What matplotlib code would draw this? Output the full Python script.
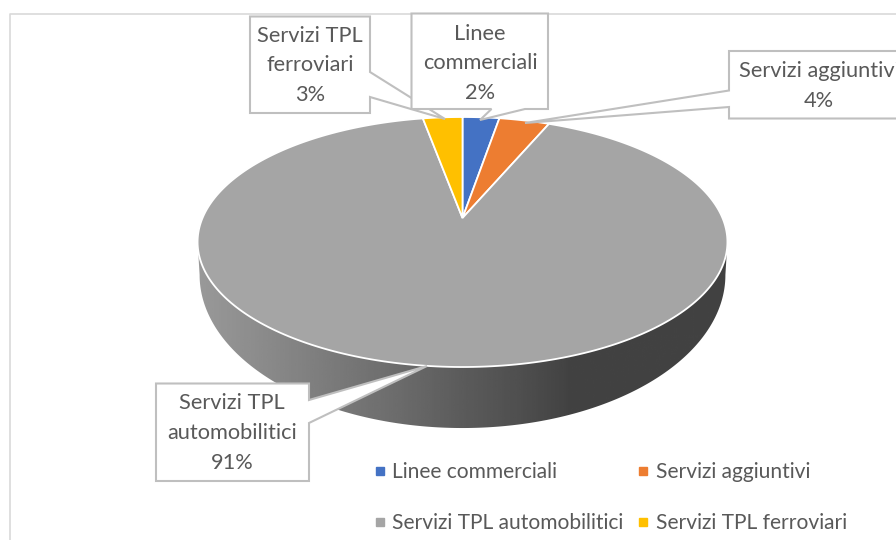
import numpy as np
import matplotlib
matplotlib.use('Agg')
import matplotlib.pyplot as plt
from matplotlib.lines import Line2D
from matplotlib.patches import Polygon

plt.rcParams['font.family'] = ['Lato', 'DejaVu Sans']

categories = ['Linee commerciali', 'Servizi aggiuntivi', 'Servizi TPL automobilitici', 'Servizi TPL ferroviari']
# slice sizes as measured on the picture, printed labels are the ones in the chart
shares = [2.7, 3.7, 90.7, 2.9]
pct_labels = ['2%', '4%', '91%', '3%']
colors = ['#4472c4', '#ed7d31', '#a5a5a5', '#ffc000']

text_color = '#595959'
box_color = '#bfbfbf'


def project(theta, x0, y0, a, b, k):
    # tilted disc, theta clockwise from the back of the pie
    xx = np.sin(theta)
    yy = np.cos(theta)
    d = 1 + k * yy
    return x0 + a * xx / d, y0 - b * yy / d


top = dict(x0=462.5, y0=218, a=260, b=120.4, k=0.192)
low = dict(x0=462.5, y0=245.6, a=258, b=147.4, k=0.192)

fig = plt.figure(figsize=(8.96, 5.4), dpi=100)
ax = fig.add_axes([0, 0, 1, 1])

# chart frame
ax.plot([10, 10, 896], [540, 13.5, 13.5], color='#d9d9d9', lw=1.2, zorder=0)

# side of the pie
t = np.linspace(0, 2 * np.pi, 721)
tx, ty = project(t, **top)
lx, ly = project(t, **low)
i_l, i_r = np.argmin(lx), np.argmax(lx)
t_l, t_r = np.argmin(tx), np.argmax(tx)
side_x = np.r_[lx[i_r:i_l + 1], tx[t_l:], tx[:t_r + 1]]
side_y = np.r_[ly[i_r:i_l + 1], ty[t_l:], ty[:t_r + 1]]
side = Polygon(np.c_[side_x, side_y], closed=True, fc='none', ec='none', transform=ax.transData)
ax.add_patch(side)
ramp = np.interp(np.linspace(190, 735, 256), [200, 310, 400, 460, 520, 570],
                 [0.60, 0.50, 0.42, 0.36, 0.31, 0.26])
im = ax.imshow(ramp[None, :], extent=[190, 735, 440, 230], cmap='gray', vmin=0, vmax=1,
               aspect='auto', zorder=1)
im.set_clip_path(side)

# top of the pie
start = 0
for share, color in zip(shares, colors):
    end = start + share / sum(shares) * 2 * np.pi
    arc = np.linspace(start, end, 300)
    ax_, ay_ = project(arc, **top)
    pts = np.c_[np.r_[top['x0'], ax_], np.r_[top['y0'], ay_]]
    ax.add_patch(Polygon(pts, closed=True, fc=color, ec='white', lw=1.3, zorder=2))
    start = end


def callout(outline, lines, cx, ys):
    ax.add_patch(Polygon(outline, closed=True, fc='white', ec=box_color, lw=1.5, zorder=3))
    for line, y in zip(lines, ys):
        ax.text(cx, y, line, ha='center', va='center', fontsize=15.7, color=text_color, zorder=4)


callout([(250, 16.5), (370, 16.5), (370, 72), (445, 119), (370, 97), (370, 113), (250, 113)],
        ['Servizi TPL', 'ferroviari', pct_labels[3]], 310, [36, 65, 95])
callout([(411.5, 13.5), (548, 13.5), (548, 109), (525, 109), (480, 120), (491.5, 109), (411.5, 109)],
        ['Linee', 'commerciali', pct_labels[0]], 480, [34, 63, 93])
callout([(729, 51), (900, 51), (900, 118.5), (729, 118.5), (729, 107), (525, 123), (729, 90.5)],
        ['Servizi aggiuntivi', pct_labels[1]], 819, [71, 101])
callout([(156, 383.5), (309, 383.5), (309, 400), (427, 366), (309, 423), (309, 481), (156, 481)],
        ['Servizi TPL', 'automobilitici', pct_labels[2]], 232, [403, 433, 463])

# legend, filled column by column
order = [0, 2, 1, 3]
handles = [Line2D([], [], ls='none', marker='s', ms=5.5, color=colors[i]) for i in order]
ax.legend(handles, [categories[i] for i in order], ncol=2, frameon=False,
          loc='upper left', bbox_to_anchor=(365, 462), bbox_transform=ax.transData,
          fontsize=15.1, labelcolor=text_color, handletextpad=-0.1, columnspacing=0.23,
          labelspacing=1.5, borderpad=0, borderaxespad=0, handlelength=1.4)

ax.set_xlim(0, 896)
ax.set_ylim(540, 0)
ax.axis('off')
fig.savefig('out.png', dpi=100)
